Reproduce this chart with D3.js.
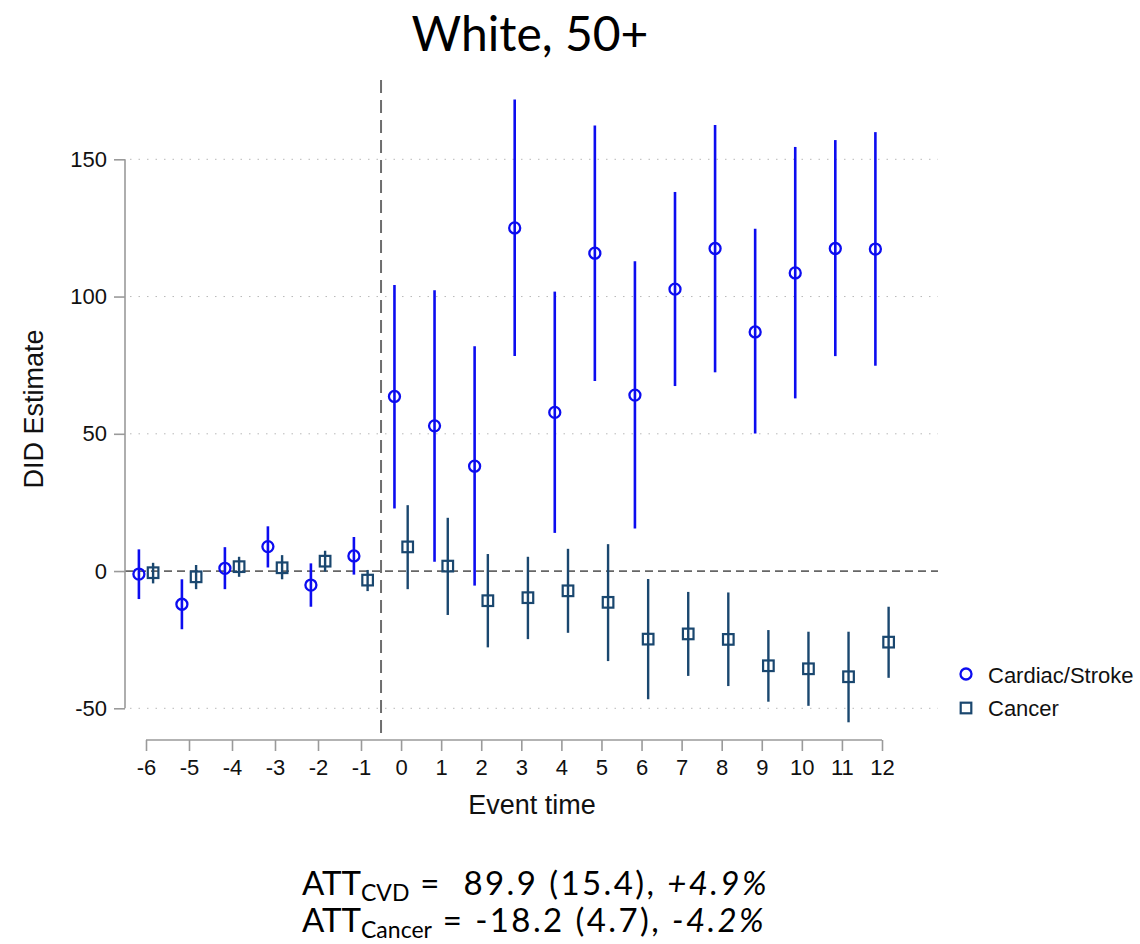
<!DOCTYPE html>
<html>
<head>
<meta charset="utf-8">
<script src="https://cdn.jsdelivr.net/npm/d3@7"></script>
<style>
  body { margin: 0; background: #fff; }
  svg { display: block; }
</style>
</head>
<body>
<div id="chart"></div>
<script>
// event times and DID estimates
const eventTimes = [-6, -5, -4, -3, -2, -1, 0, 1, 2, 3, 4, 5, 6, 7, 8, 9, 10, 11, 12];

const cvdEst = [-1.1, -12.1, 1.0, 8.9, -5.1, 5.5, 63.6, 52.9, 38.2, 125.0, 57.8, 115.8, 64.1, 102.7, 117.5, 87.1, 108.6, 117.5, 117.3];
const cvdLo  = [-10.2, -21.2, -6.6, 1.3, -13.0, -1.3, 22.8, 3.4, -5.3, 78.3, 13.9, 69.2, 15.5, 67.4, 72.4, 50.1, 62.9, 78.3, 74.8];
const cvdHi  = [7.9, -3.0, 8.7, 16.3, 2.8, 12.4, 104.2, 102.3, 81.9, 171.8, 101.8, 162.3, 112.9, 138.1, 162.5, 124.7, 154.5, 157.0, 159.9];

const cancerEst = [-0.6, -2.1, 1.6, 1.2, 3.6, -3.3, 8.8, 1.8, -10.8, -9.7, -7.2, -11.4, -24.8, -22.9, -24.9, -34.5, -35.6, -38.5, -25.9];
const cancerLo  = [-4.5, -6.6, -2.1, -3.0, -0.2, -7.3, -6.6, -16.0, -27.8, -24.8, -22.5, -32.8, -46.7, -38.2, -41.9, -47.6, -49.1, -55.1, -38.9];
const cancerHi  = [3.0, 2.2, 5.2, 5.8, 7.4, 0.4, 24.0, 19.4, 6.2, 5.2, 8.1, 9.8, -2.9, -7.6, -7.8, -21.5, -22.1, -22.1, -13.0];

const yTicks = [-50, 0, 50, 100, 150];
const gridTicks = [-50, 50, 100, 150];
const seriesNames = ['Cardiac/Stroke', 'Cancer'];

const svgWidth = 1140, svgHeight = 944;
const blue = '#0c0cf0', navy = '#1a476f';
const axisGray = '#9a9a9a';
const plotLeft = 125, plotRight = 938, plotTop = 80;
const axisFont = '"Liberation Sans", Arial, sans-serif';

const cvd = eventTimes.map((t, i) => ({ t, est: cvdEst[i], lo: cvdLo[i], hi: cvdHi[i] }));
const cancer = eventTimes.map((t, i) => ({ t, est: cancerEst[i], lo: cancerLo[i], hi: cancerHi[i] }));

const xScale = d3.scaleLinear()
  .domain([-6, -1, 12])
  .range([146, 361, 882]);

const yScale = d3.scaleLinear()
  .domain([-50, 150])
  .range([708.3, 159.3]);

const off = 0.165;

const svg = d3.select('#chart').append('svg')
  .attr('width', svgWidth)
  .attr('height', svgHeight);

// gridlines
svg.append('g')
  .selectAll('line')
  .data(gridTicks)
  .join('line')
  .attr('x1', plotLeft + 5).attr('x2', plotRight)
  .attr('y1', d => yScale(d)).attr('y2', d => yScale(d))
  .attr('stroke', '#b8b8b8')
  .attr('stroke-width', 1)
  .attr('stroke-dasharray', '1.5,7');

// zero line
svg.append('line')
  .attr('x1', plotLeft).attr('x2', plotRight)
  .attr('y1', yScale(0)).attr('y2', yScale(0))
  .attr('stroke', '#666')
  .attr('stroke-width', 1.8)
  .attr('stroke-dasharray', '8,5');

// event start line
svg.append('line')
  .attr('x1', xScale(-0.5)).attr('x2', xScale(-0.5))
  .attr('y1', plotTop).attr('y2', 740)
  .attr('stroke', '#6e6e6e')
  .attr('stroke-width', 2)
  .attr('stroke-dasharray', '13,7');

// y axis
const yAxis = svg.append('g')
  .attr('transform', `translate(${plotLeft},0)`)
  .call(d3.axisLeft(yScale).tickValues(yTicks).tickFormat(d => String(d)).tickSize(11).tickPadding(7));
yAxis.select('.domain').attr('stroke', axisGray).attr('stroke-width', 1.6)
  .attr('d', `M0,${yScale(150)}V${yScale(-50)}`);
yAxis.selectAll('.tick line').attr('stroke', axisGray).attr('stroke-width', 1.6);
yAxis.selectAll('.tick text')
  .attr('font-family', axisFont)
  .attr('font-size', 22)
  .attr('fill', '#111');

// x axis
const xAxis = svg.append('g')
  .attr('transform', 'translate(0,740)')
  .call(d3.axisBottom(xScale).tickValues(eventTimes).tickFormat(d => String(d)).tickSize(11).tickPadding(8));
xAxis.select('.domain').attr('stroke', axisGray).attr('stroke-width', 1.6)
  .attr('d', `M${xScale(-6)},0H${xScale(12)}`);
xAxis.selectAll('.tick line').attr('stroke', axisGray).attr('stroke-width', 1.6);
xAxis.selectAll('.tick text')
  .attr('font-family', axisFont)
  .attr('font-size', 22)
  .attr('fill', '#111');

// axis titles
svg.append('text')
  .attr('transform', `translate(43,409) rotate(-90)`)
  .attr('text-anchor', 'middle')
  .attr('font-family', axisFont)
  .attr('font-size', 27)
  .attr('fill', '#111')
  .text('DID Estimate');

svg.append('text')
  .attr('x', 532).attr('y', 814)
  .attr('text-anchor', 'middle')
  .attr('font-family', axisFont)
  .attr('font-size', 27)
  .attr('fill', '#111')
  .text('Event time');

// cancer CIs and markers
svg.append('g')
  .selectAll('line')
  .data(cancer)
  .join('line')
  .attr('x1', d => xScale(d.t + off)).attr('x2', d => xScale(d.t + off))
  .attr('y1', d => yScale(d.lo)).attr('y2', d => yScale(d.hi))
  .attr('stroke', navy)
  .attr('stroke-width', 2.4);

svg.append('g')
  .selectAll('rect')
  .data(cancer)
  .join('rect')
  .attr('x', d => xScale(d.t + off) - 5.3)
  .attr('y', d => yScale(d.est) - 5.3)
  .attr('width', 10.6).attr('height', 10.6)
  .attr('fill', 'none')
  .attr('stroke', navy)
  .attr('stroke-width', 2.2);

// cardiac CIs and markers
svg.append('g')
  .selectAll('line')
  .data(cvd)
  .join('line')
  .attr('x1', d => xScale(d.t - off)).attr('x2', d => xScale(d.t - off))
  .attr('y1', d => yScale(d.lo)).attr('y2', d => yScale(d.hi))
  .attr('stroke', blue)
  .attr('stroke-width', 2.6);

svg.append('g')
  .selectAll('circle')
  .data(cvd)
  .join('circle')
  .attr('cx', d => xScale(d.t - off))
  .attr('cy', d => yScale(d.est))
  .attr('r', 5.5)
  .attr('fill', 'none')
  .attr('stroke', blue)
  .attr('stroke-width', 2.3);

// legend
const legend = svg.append('g').attr('transform', 'translate(966,674)');
legend.append('circle')
  .attr('cx', 0).attr('cy', 0).attr('r', 5.5)
  .attr('fill', 'none').attr('stroke', blue).attr('stroke-width', 2.3);
legend.append('rect')
  .attr('x', -5.3).attr('y', 34 - 5.3).attr('width', 10.6).attr('height', 10.6)
  .attr('fill', 'none').attr('stroke', navy).attr('stroke-width', 2.2);
legend.selectAll('text')
  .data(seriesNames)
  .join('text')
  .attr('x', 22)
  .attr('y', (d, i) => 8.5 + i * 33.5)
  .attr('font-family', axisFont)
  .attr('font-size', 22)
  .attr('fill', '#111')
  .text(d => d);

// title
svg.append('text')
  .attr('x', 530).attr('y', 51)
  .attr('text-anchor', 'middle')
  .attr('font-family', 'Lato, "Noto Sans", sans-serif')
  .attr('font-size', 48)
  .attr('fill', '#000')
  .text('White, 50+');

// ATT summary
const att = [
  { sub: 'CVD', mid: ' =  89.9 (15.4), ', pct: '+4.9%', y: 895 },
  { sub: 'Cancer', mid: ' = -18.2 (4.7), ', pct: '-4.2%', y: 932 }
];
att.forEach(a => {
  const t = svg.append('text')
    .attr('x', 302).attr('y', a.y)
    .attr('font-family', 'Lato, "Noto Sans", sans-serif')
    .attr('font-size', 33)
    .attr('fill', '#000')
    .style('white-space', 'pre');
  t.append('tspan').text('ATT');
  t.append('tspan').attr('font-size', 23).attr('dy', 6).text(a.sub);
  t.append('tspan').attr('dy', -6).attr('letter-spacing', 2.4).text(a.mid);
  t.append('tspan').attr('font-style', 'italic').attr('letter-spacing', 2.4).text(a.pct);
});
</script>
</body>
</html>
